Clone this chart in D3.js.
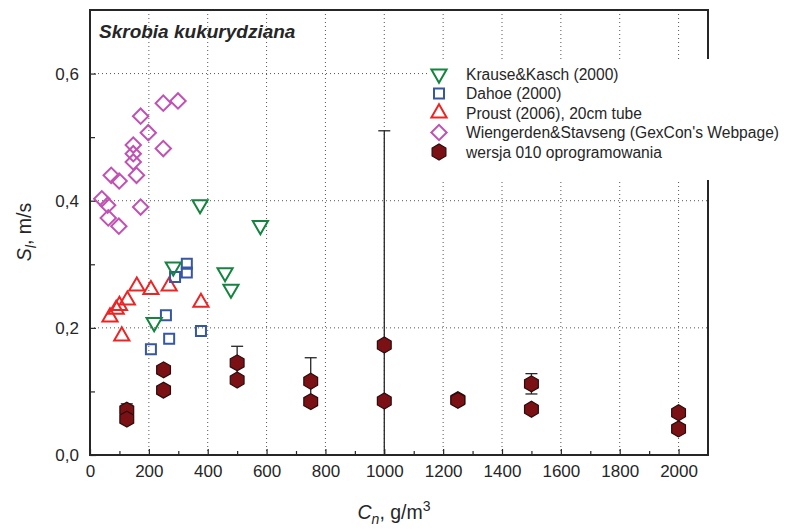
<!DOCTYPE html>
<html>
<head>
<meta charset="utf-8">
<script src="https://cdn.jsdelivr.net/npm/d3@7/dist/d3.min.js"></script>
<style>
  html, body { margin: 0; padding: 0; background: #fff; }
  svg { display: block; font-family: "Liberation Sans", Arial, sans-serif; }
</style>
</head>
<body>
<svg id="chart" width="787" height="529"></svg>
<script>
// ---- data ----
const krauseX = [374, 579, 283, 459, 479, 218];
const krauseY = [0.394, 0.361, 0.296, 0.287, 0.261, 0.2085];

const dahoeX = [329, 329, 289, 258, 207, 269, 377];
const dahoeY = [0.301, 0.287, 0.280, 0.220, 0.1665, 0.183, 0.195];

const proustX = [159, 207, 269, 127, 100, 89, 68, 108, 377];
const proustY = [0.2655, 0.260, 0.2655, 0.2435, 0.235, 0.229, 0.217, 0.187, 0.240];

const wiengX = [40, 60, 62, 98, 72, 99, 172, 158, 147, 147, 147, 198, 172, 249, 249, 299];
const wiengY = [0.403, 0.393, 0.373, 0.360, 0.440, 0.431, 0.390, 0.440, 0.461, 0.474, 0.4875, 0.507, 0.533, 0.482, 0.5535, 0.557];

// simulation results: two runs per concentration, error bars on the first run
const wersjaX    = [125, 250, 500, 750, 1000, 1250, 1500, 2000];
const wersjaYa   = [0.0705, 0.134, 0.145, 0.116, 0.173, 0.087, 0.112, 0.0665];
const wersjaErr  = [0.010, 0.000, 0.026, 0.037, 0.337, 0.005, 0.016, 0.000];
const wersjaYb   = [0.0565, 0.102, 0.118, 0.084, 0.085, 0.086, 0.072, 0.041];

const xTickValues = [0, 200, 400, 600, 800, 1000, 1200, 1400, 1600, 1800, 2000];
const xTickLabels = ["0", "200", "400", "600", "800", "1000", "1200", "1400", "1600", "1800", "2000"];
const yTickValues = [0, 0.2, 0.4, 0.6];
const yTickLabels = ["0,0", "0,2", "0,4", "0,6"];
const xMinor = [100, 300, 500, 700, 900, 1100, 1300, 1500, 1700, 1900];
const yMinor = [0.1, 0.3, 0.5];

const legendLabels = [
  "Krause&Kasch (2000)",
  "Dahoe (2000)",
  "Proust (2006), 20cm tube",
  "Wiengerden&Stavseng (GexCon's Webpage)",
  "wersja 010 oprogramowania"
];

// ---- layout ----
const svg = d3.select("#chart");
const plotL = 90, plotR = 708, plotT = 10, plotB = 455;
const x = d3.scaleLinear().domain([0, 2100]).range([plotL, plotR]);
const y = d3.scaleLinear().domain([0, 0.7]).range([plotB, plotT]);
const ink = "#262626";

const colors = {
  krause: "#14843f",
  dahoe: "#3656a8",
  proust: "#ee2424",
  wieng: "#c152b4",
  wersja: "#7b1114"
};

// ---- grid ----
const grid = svg.append("g").attr("stroke", "#555").attr("stroke-width", 1)
  .attr("stroke-dasharray", "1,3");
grid.selectAll("line.v").data(xTickValues.filter(v => v > 0)).join("line")
  .attr("class", "v")
  .attr("x1", d => x(d)).attr("x2", d => x(d))
  .attr("y1", plotT).attr("y2", plotB);
grid.selectAll("line.h").data(yTickValues.filter(v => v > 0)).join("line")
  .attr("class", "h")
  .attr("x1", plotL).attr("x2", plotR)
  .attr("y1", d => y(d)).attr("y2", d => y(d));

// ---- axes (inward ticks) ----
const xAxis = d3.axisBottom(x).tickValues(xTickValues)
  .tickSizeInner(-6).tickSizeOuter(0).tickPadding(10)
  .tickFormat((d, i) => xTickLabels[i]);
const gx = svg.append("g").attr("transform", `translate(0,${plotB})`).call(xAxis);
const xMinorAxis = d3.axisBottom(x).tickValues(xMinor).tickSizeInner(-4).tickSizeOuter(0).tickFormat("");
const gxm = svg.append("g").attr("transform", `translate(0,${plotB})`).call(xMinorAxis);

const yAxis = d3.axisLeft(y).tickValues(yTickValues)
  .tickSizeInner(-6).tickSizeOuter(0).tickPadding(10)
  .tickFormat((d, i) => yTickLabels[i]);
const gy = svg.append("g").attr("transform", `translate(${plotL},0)`).call(yAxis);
const yMinorAxis = d3.axisLeft(y).tickValues(yMinor).tickSizeInner(-5).tickSizeOuter(0).tickFormat("");
const gym = svg.append("g").attr("transform", `translate(${plotL},0)`).call(yMinorAxis);

[gx, gxm, gy, gym].forEach(g => {
  g.select(".domain").remove();
  g.selectAll(".tick line").attr("stroke", ink).attr("stroke-width", 1.2);
  g.selectAll(".tick text").attr("fill", ink).style("font-size", "17px");
});
gy.selectAll(".tick text").attr("dx", "-1px");

// frame
svg.append("rect")
  .attr("x", plotL).attr("y", plotT)
  .attr("width", plotR - plotL).attr("height", plotB - plotT)
  .attr("fill", "none").attr("stroke", ink).attr("stroke-width", 2);

// ---- markers ----
const hexagon = {
  draw(ctx, size) {
    const r = Math.sqrt(size / (1.5 * Math.sqrt(3)));
    for (let i = 0; i < 6; i++) {
      const a = Math.PI / 2 + i * Math.PI / 3;
      const px = r * Math.cos(a), py = r * Math.sin(a);
      if (i === 0) ctx.moveTo(px, py); else ctx.lineTo(px, py);
    }
    ctx.closePath();
  }
};
const triUp = d3.symbol(d3.symbolTriangle, 100)();
const square = d3.symbol(d3.symbolSquare, 100)();
const diamond = d3.symbol(d3.symbolSquare, 118)();
const hex = d3.symbol(hexagon, 165)();

function drawSym(g, xs, ys, path, color, rot) {
  g.selectAll("path").data(xs).join("path")
    .attr("d", path)
    .attr("transform", (d, i) => `translate(${x(d)},${y(ys[i])})` + (rot ? ` rotate(${rot})` : ""))
    .attr("fill", "none").attr("stroke", color).attr("stroke-width", 2);
}

drawSym(svg.append("g"), wiengX, wiengY, diamond, colors.wieng, 45);
drawSym(svg.append("g"), proustX, proustY, triUp, colors.proust, 0);
drawSym(svg.append("g"), dahoeX, dahoeY, square, colors.dahoe, 0);
drawSym(svg.append("g"), krauseX, krauseY, triUp, colors.krause, 180);

// error bars (clipped to the axis at zero)
const eb = svg.append("g").attr("stroke", ink).attr("stroke-width", 1.3).attr("fill", "none");
wersjaX.forEach((xv, i) => {
  const e = wersjaErr[i];
  if (!e) return;
  const hi = wersjaYa[i] + e, lo = Math.max(0, wersjaYa[i] - e);
  const cx = x(xv);
  eb.append("line").attr("x1", cx).attr("x2", cx).attr("y1", y(hi)).attr("y2", y(lo));
  eb.append("line").attr("x1", cx - 6).attr("x2", cx + 6).attr("y1", y(hi)).attr("y2", y(hi));
  if (lo > 0) eb.append("line").attr("x1", cx - 6).attr("x2", cx + 6).attr("y1", y(lo)).attr("y2", y(lo));
});

const hexG = svg.append("g");
[wersjaYa, wersjaYb].forEach(ys => {
  hexG.append("g").selectAll("path").data(wersjaX).join("path")
    .attr("d", hex)
    .attr("transform", (d, i) => `translate(${x(d)},${y(ys[i])})`)
    .attr("fill", colors.wersja).attr("stroke", "#2b0c0c").attr("stroke-width", 1.2);
});

// ---- title ----
svg.append("text")
  .attr("x", 99).attr("y", 38)
  .attr("fill", ink)
  .style("font-size", "19px").style("font-weight", "bold").style("font-style", "italic")
  .text("Skrobia kukurydziana");

// ---- legend ----
const lg = svg.append("g");
lg.append("rect").attr("x", 430).attr("y", 59).attr("width", 360).attr("height", 121).attr("fill", "#fff");
const rowY = i => 74 + i * 19.5;
const lmx = 439;
const legendMarks = [
  { path: triUp, rot: 180, color: colors.krause, fill: "none", sw: 2 },
  { path: square, rot: 0, color: colors.dahoe, fill: "none", sw: 2 },
  { path: triUp, rot: 0, color: colors.proust, fill: "none", sw: 2 },
  { path: diamond, rot: 45, color: colors.wieng, fill: "none", sw: 2 },
  { path: hex, rot: 0, color: "#2b0c0c", fill: colors.wersja, sw: 1.2 }
];
lg.selectAll("path").data(legendMarks).join("path")
  .attr("d", d => d.path)
  .attr("transform", (d, i) => `translate(${lmx},${rowY(i)}) rotate(${d.rot})`)
  .attr("fill", d => d.fill).attr("stroke", d => d.color).attr("stroke-width", d => d.sw);
lg.selectAll("text").data(legendLabels).join("text")
  .attr("x", 466).attr("y", (d, i) => rowY(i) + 5.5)
  .attr("fill", ink).style("font-size", "15.6px")
  .text(d => d);

// ---- axis titles ----
const xt = svg.append("text").attr("x", 394).attr("y", 519).attr("text-anchor", "middle")
  .attr("fill", ink).style("font-size", "19.5px");
xt.append("tspan").style("font-style", "italic").text("C");
xt.append("tspan").attr("dy", 5).style("font-style", "italic").style("font-size", "14px").text("n");
xt.append("tspan").attr("dy", -5).text(", g/m");
xt.append("tspan").attr("dy", -8).style("font-size", "14px").text("3");

const yt = svg.append("text").attr("transform", "translate(31,232) rotate(-90)")
  .attr("text-anchor", "middle").attr("fill", ink).style("font-size", "19.5px");
yt.append("tspan").style("font-style", "italic").text("S");
yt.append("tspan").attr("dy", 5).style("font-style", "italic").style("font-size", "14px").text("l");
yt.append("tspan").attr("dy", -5).text(", m/s");
</script>
</body>
</html>
